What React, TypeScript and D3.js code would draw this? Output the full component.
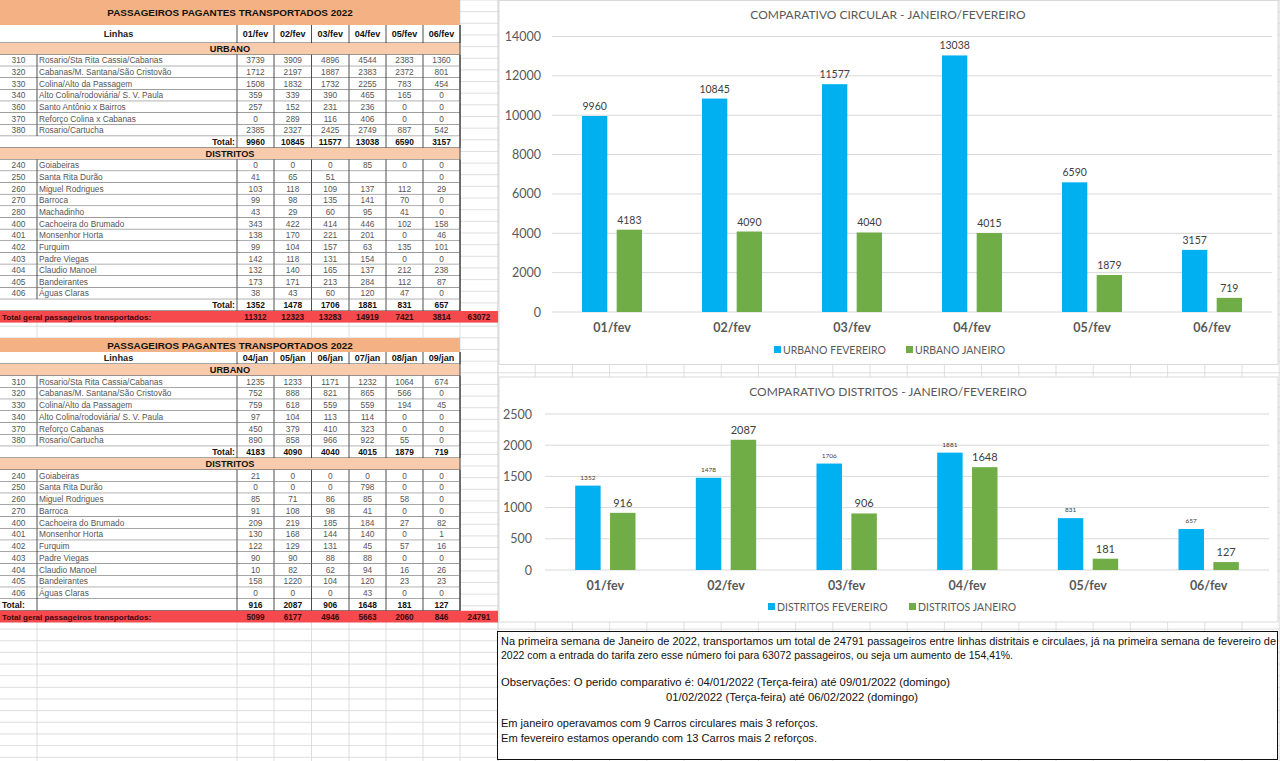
import React from 'react';
import * as d3 from 'd3';

// ---- chart data ----
const febDates = ['01/fev', '02/fev', '03/fev', '04/fev', '05/fev', '06/fev'];
const janDates = ['04/jan', '05/jan', '06/jan', '07/jan', '08/jan', '09/jan'];

const urbanoFev = [9960, 10845, 11577, 13038, 6590, 3157];
const urbanoJan = [4183, 4090, 4040, 4015, 1879, 719];
const distritosFev = [1352, 1478, 1706, 1881, 831, 657];
const distritosJan = [916, 2087, 906, 1648, 181, 127];

const urbanoTicks = [0, 2000, 4000, 6000, 8000, 10000, 12000, 14000];
const distritosTicks = [0, 500, 1000, 1500, 2000, 2500];

// ---- table data (fevereiro) ----
const febUrbanoLines = [
  ['310', 'Rosario/Sta Rita Cassia/Cabanas'],
  ['320', 'Cabanas/M. Santana/São Cristovão'],
  ['330', 'Colina/Alto da Passagem'],
  ['340', 'Alto Colina/rodoviária/ S. V. Paula'],
  ['360', 'Santo Antônio x Bairros'],
  ['370', 'Reforço Colina x Cabanas'],
  ['380', 'Rosario/Cartucha'],
];
const febUrbanoValues = [
  [3739, 3909, 4896, 4544, 2383, 1360],
  [1712, 2197, 1887, 2383, 2372, 801],
  [1508, 1832, 1732, 2255, 783, 454],
  [359, 339, 390, 465, 165, 0],
  [257, 152, 231, 236, 0, 0],
  [0, 289, 116, 406, 0, 0],
  [2385, 2327, 2425, 2749, 887, 542],
];
const febDistritosLines = [
  ['240', 'Goiabeiras'],
  ['250', 'Santa Rita Durão'],
  ['260', 'Miguel Rodrigues'],
  ['270', 'Barroca'],
  ['280', 'Machadinho'],
  ['400', 'Cachoeira do Brumado'],
  ['401', 'Monsenhor Horta'],
  ['402', 'Furquim'],
  ['403', 'Padre Viegas'],
  ['404', 'Claudio Manoel'],
  ['405', 'Bandeirantes'],
  ['406', 'Águas Claras'],
];
const febDistritosValues = [
  [0, 0, 0, 85, 0, 0],
  [41, 65, 51, null, null, 0],
  [103, 118, 109, 137, 112, 29],
  [99, 98, 135, 141, 70, 0],
  [43, 29, 60, 95, 41, 0],
  [343, 422, 414, 446, 102, 158],
  [138, 170, 221, 201, 0, 46],
  [99, 104, 157, 63, 135, 101],
  [142, 118, 131, 154, 0, 0],
  [132, 140, 165, 137, 212, 238],
  [173, 171, 213, 284, 112, 87],
  [38, 43, 60, 120, 47, 0],
];
const febGrand = [11312, 12323, 13283, 14919, 7421, 3814];
const febGrandAll = 63072;

// ---- table data (janeiro) ----
const janUrbanoLines = [
  ['310', 'Rosario/Sta Rita Cassia/Cabanas'],
  ['320', 'Cabanas/M. Santana/São Cristovão'],
  ['330', 'Colina/Alto da Passagem'],
  ['340', 'Alto Colina/rodoviária/ S. V. Paula'],
  ['370', 'Reforço Cabanas'],
  ['380', 'Rosario/Cartucha'],
];
const janUrbanoValues = [
  [1235, 1233, 1171, 1232, 1064, 674],
  [752, 888, 821, 865, 566, 0],
  [759, 618, 559, 559, 194, 45],
  [97, 104, 113, 114, 0, 0],
  [450, 379, 410, 323, 0, 0],
  [890, 858, 966, 922, 55, 0],
];
const janDistritosLines = [
  ['240', 'Goiabeiras'],
  ['250', 'Santa Rita Durão'],
  ['260', 'Miguel Rodrigues'],
  ['270', 'Barroca'],
  ['400', 'Cachoeira do Brumado'],
  ['401', 'Monsenhor Horta'],
  ['402', 'Furquim'],
  ['403', 'Padre Viegas'],
  ['404', 'Claudio Manoel'],
  ['405', 'Bandeirantes'],
  ['406', 'Águas Claras'],
];
const janDistritosValues = [
  [21, 0, 0, 0, 0, 0],
  [0, 0, 0, 798, 0, 0],
  [85, 71, 86, 85, 58, 0],
  [91, 108, 98, 41, 0, 0],
  [209, 219, 185, 184, 27, 82],
  [130, 168, 144, 140, 0, 1],
  [122, 129, 131, 45, 57, 16],
  [90, 90, 88, 88, 0, 0],
  [10, 82, 62, 94, 16, 26],
  [158, 1220, 104, 120, 23, 23],
  [0, 0, 0, 43, 0, 0],
];
const janGrand = [5099, 6177, 4946, 5663, 2060, 846];
const janGrandAll = 24791;

const noteLines = [
  'Na primeira semana de Janeiro de 2022, transportamos um total de 24791 passageiros entre linhas distritais e circulaes, já na primeira semana de fevereiro de',
  '2022 com a entrada do tarifa zero esse número foi para 63072 passageiros, ou seja um aumento de 154,41%.',
  'Observações: O perido comparativo é:  04/01/2022 (Terça-feira) até 09/01/2022 (domingo)',
  '01/02/2022 (Terça-feira) até 06/02/2022 (domingo)',
  'Em janeiro operavamos com 9 Carros circulares mais 3 reforços.',
  'Em fevereiro estamos operando com 13 Carros mais 2 reforços.',
];

// ---- layout ----
const W = 1280;
const H = 761;
const COLS = [0, 37, 237, 274, 311.5, 349, 386, 423, 460, 498];
const SHEET_FONT = '"Liberation Sans", Arial, sans-serif';
const CHART_FONT = 'Lato, "Open Sans", sans-serif';
const BLUE = '#00b0f0';
const GREEN = '#70ad47';
const GRID = '#d6d6d6';

type Row = {
  kind: 'title' | 'header' | 'section' | 'data' | 'total' | 'grand';
  h: number;
  label?: string;
  code?: string;
  name?: string;
  values?: (number | null)[];
  extra?: number;
  left?: boolean;
};

function buildRows(
  dates: string[],
  urbLines: string[][],
  urbVals: (number | null)[][],
  urbTot: number[],
  distLines: string[][],
  distVals: (number | null)[][],
  distTot: number[],
  grand: number[],
  grandAll: number,
  hTitle: number,
  hHead: number,
  rh: number,
  distTotalLeft: boolean
): Row[] {
  const rows: Row[] = [];
  rows.push({ kind: 'title', h: hTitle, label: 'PASSAGEIROS PAGANTES TRANSPORTADOS 2022' });
  rows.push({ kind: 'header', h: hHead, label: 'Linhas', values: dates as any });
  rows.push({ kind: 'section', h: rh, label: 'URBANO' });
  urbLines.forEach((l, i) => rows.push({ kind: 'data', h: rh, code: l[0], name: l[1], values: urbVals[i] }));
  rows.push({ kind: 'total', h: rh, values: urbTot, left: false });
  rows.push({ kind: 'section', h: rh, label: 'DISTRITOS' });
  distLines.forEach((l, i) => rows.push({ kind: 'data', h: rh, code: l[0], name: l[1], values: distVals[i] }));
  rows.push({ kind: 'total', h: rh, values: distTot, left: distTotalLeft });
  rows.push({ kind: 'grand', h: rh, values: grand, extra: grandAll });
  return rows;
}

function SheetTable({ rows, y0 }: { rows: Row[]; y0: number }) {
  let y = y0;
  const out: React.ReactNode[] = [];
  const colMid = (j: number) => (COLS[j + 2] + COLS[j + 3]) / 2;
  rows.forEach((r, i) => {
    const top = y;
    const bot = y + r.h;
    const mid = top + r.h / 2 + 3;
    y = bot;
    const g: React.ReactNode[] = [];
    if (r.kind === 'title') {
      g.push(<rect key="bg" x={0} y={top} width={460} height={r.h} fill="#f4b183" />);
      g.push(
        <text key="t" x={230} y={top + r.h / 2 + 3.6} textAnchor="middle" fontWeight="bold" fontSize={9.9} fill="#111">
          {r.label}
        </text>
      );
    } else if (r.kind === 'header') {
      g.push(<rect key="bg" x={0} y={top} width={460} height={r.h} fill="#fff" />);
      g.push(
        <text key="l" x={118.5} y={mid} textAnchor="middle" fontWeight="bold" fontSize={9.2} fill="#222">
          {r.label}
        </text>
      );
      (r.values as any as string[]).forEach((d, j) =>
        g.push(
          <text key={'h' + j} x={colMid(j)} y={mid} textAnchor="middle" fontWeight="bold" fontSize={9} fill="#111">
            {d}
          </text>
        )
      );
      COLS.slice(2, 9).forEach((cx, j) => g.push(<line key={'v' + j} x1={cx} x2={cx} y1={top} y2={bot} stroke="#222" strokeWidth={0.8} />));
    } else if (r.kind === 'section') {
      g.push(<rect key="bg" x={0} y={top} width={460} height={r.h} fill="#f8cbad" />);
      g.push(
        <text key="t" x={230} y={mid} textAnchor="middle" fontWeight="bold" fontSize={9.2} fill="#111">
          {r.label}
        </text>
      );
    } else if (r.kind === 'data') {
      g.push(<rect key="bg" x={0} y={top} width={460} height={r.h} fill="#fff" />);
      g.push(
        <text key="c" x={18.5} y={mid} textAnchor="middle" fontSize={8.3} fill="#555">
          {r.code}
        </text>
      );
      g.push(
        <text key="n" x={39} y={mid} fontSize={8.3} fill="#555">
          {r.name}
        </text>
      );
      r.values!.forEach((v, j) =>
        g.push(
          <text key={'d' + j} x={colMid(j)} y={mid} textAnchor="middle" fontSize={8.3} fill="#555">
            {v === null ? '' : v}
          </text>
        )
      );
      [37, ...COLS.slice(2, 9)].forEach((cx, j) =>
        g.push(<line key={'v' + j} x1={cx} x2={cx} y1={top} y2={bot} stroke="#222" strokeWidth={0.8} />)
      );
    } else if (r.kind === 'total') {
      g.push(<rect key="bg" x={0} y={top} width={460} height={r.h} fill="#fff" />);
      g.push(
        <text
          key="t"
          x={r.left ? 2 : 235}
          y={mid}
          textAnchor={r.left ? 'start' : 'end'}
          fontWeight="bold"
          fontSize={8.6}
          fill="#111"
        >
          Total:
        </text>
      );
      r.values!.forEach((v, j) =>
        g.push(
          <text key={'d' + j} x={colMid(j)} y={mid} textAnchor="middle" fontWeight="bold" fontSize={8.4} fill="#111">
            {v}
          </text>
        )
      );
      COLS.slice(2, 9).forEach((cx, j) => g.push(<line key={'v' + j} x1={cx} x2={cx} y1={top} y2={bot} stroke="#222" strokeWidth={0.8} />));
      if (r.left) g.push(<line key="v37" x1={37} x2={37} y1={top} y2={bot} stroke="#222" strokeWidth={0.8} />);
    } else if (r.kind === 'grand') {
      g.push(<rect key="bg" x={0} y={top} width={498} height={r.h} fill="#f5494e" />);
      g.push(
        <text key="t" x={2} y={mid} fontWeight="bold" fontSize={8.1} fill="#3b0a0a">
          Total geral passageiros transportados:
        </text>
      );
      r.values!.forEach((v, j) =>
        g.push(
          <text key={'d' + j} x={colMid(j)} y={mid} textAnchor="middle" fontWeight="bold" fontSize={8.2} fill="#3b0a0a">
            {v}
          </text>
        )
      );
      g.push(
        <text key="all" x={479} y={mid} textAnchor="middle" fontWeight="bold" fontSize={8.2} fill="#3b0a0a">
          {r.extra}
        </text>
      );
    }
    // horizontal borders
    if (r.kind !== 'title' && r.kind !== 'grand') {
      g.push(<line key="hb" x1={0} x2={460} y1={bot} y2={bot} stroke="#222" strokeWidth={0.8} />);
      g.push(<line key="rb" x1={460} x2={460} y1={top} y2={bot} stroke="#222" strokeWidth={0.8} />);
    }
    out.push(<g key={i}>{g}</g>);
  });
  return <g fontFamily={SHEET_FONT}>{out}</g>;
}

function BarChart(props: {
  x: number;
  y: number;
  w: number;
  h: number;
  title: string;
  titleY: number;
  range: [number, number];
  yRange: [number, number];
  ticks: number[];
  tickX: number;
  fev: number[];
  jan: number[];
  labelY: number;
  legendY: number;
  legend: [string, string];
  legendX: [number, number];
  fevLabelSize: number;
  janLabelSize: number;
}) {
  const p = props;
  const x0 = d3.scaleBand<string>().domain(febDates).range(p.range).paddingInner(0.5).paddingOuter(0.25);
  const x1 = d3.scaleBand<string>().domain(['fev', 'jan']).range([0, x0.bandwidth()]).paddingInner(0.27);
  const y = d3.scaleLinear().domain([0, p.ticks[p.ticks.length - 1]]).range(p.yRange);
  const series = [
    { key: 'fev', vals: p.fev, color: BLUE, size: p.fevLabelSize },
    { key: 'jan', vals: p.jan, color: GREEN, size: p.janLabelSize },
  ];
  return (
    <g fontFamily={CHART_FONT}>
      <rect x={p.x} y={p.y} width={p.w} height={p.h} fill="#fff" stroke="#d9d9d9" />
      <text x={888} y={p.titleY} textAnchor="middle" fontSize={12} fill="#595959">
        {p.title}
      </text>
      {p.ticks.map(t => (
        <g key={t}>
          <line x1={p.range[0]} x2={p.range[1]} y1={y(t)} y2={y(t)} stroke="#d9d9d9" strokeWidth={1} />
          <text x={p.tickX} y={y(t) + 4.5} textAnchor="end" fontSize={12.5} fill="#595959">
            {t}
          </text>
        </g>
      ))}
      {series.map(s =>
        febDates.map((d, i) => {
          const bx = (x0(d) ?? 0) + (x1(s.key) ?? 0);
          const by = y(s.vals[i]);
          return (
            <g key={s.key + d}>
              <rect x={bx} y={by} width={x1.bandwidth()} height={y(0) - by} fill={s.color} />
              <text x={bx + x1.bandwidth() / 2} y={by - 6} textAnchor="middle" fontSize={s.size} fill="#404040">
                {s.vals[i]}
              </text>
            </g>
          );
        })
      )}
      {febDates.map(d => (
        <text key={d} x={(x0(d) ?? 0) + x0.bandwidth() / 2} y={p.labelY} textAnchor="middle" fontWeight="bold" fontSize={12.5} fill="#595959">
          {d}
        </text>
      ))}
      {p.legend.map((l, i) => (
        <g key={l}>
          <rect x={p.legendX[i]} y={p.legendY - 4} width={7} height={7} fill={i === 0 ? BLUE : GREEN} />
          <text x={p.legendX[i] + 9} y={p.legendY + 3.5} fontSize={10.5} fill="#595959">
            {l}
          </text>
        </g>
      ))}
    </g>
  );
}

export default function App() {
  React.useEffect(() => {
    document.body.style.margin = '0';
  }, []);

  const febRows = buildRows(
    febDates,
    febUrbanoLines,
    febUrbanoValues,
    urbanoFev,
    febDistritosLines,
    febDistritosValues,
    distritosFev,
    febGrand,
    febGrandAll,
    25,
    18,
    11.65,
    false
  );
  const janRows = buildRows(
    janDates,
    janUrbanoLines,
    janUrbanoValues,
    urbanoJan,
    janDistritosLines,
    janDistritosValues,
    distritosJan,
    janGrand,
    janGrandAll,
    14,
    12,
    11.75,
    true
  );

  // background spreadsheet grid
  const hLines = d3.range(0, H, 11.65);
  const rightCols = d3.range(498, W, 37.2);

  const noteX = [501, 501, 501, 666, 501, 501];
  const noteY = [645, 659, 686, 701, 727, 742];
  const noteW = [775, 512, 449, 252, 317, 316];

  return (
    <svg width={W} height={H} style={{ display: 'block', position: 'absolute', left: 0, top: 0 }}>
      <rect width={W} height={H} fill="#fff" />
      <g stroke={GRID} strokeWidth={0.8}>
        {hLines.map((hy, i) => (
          <line key={'h' + i} x1={0} x2={W} y1={hy} y2={hy} />
        ))}
        {[...COLS.slice(1), ...rightCols].map((cx, i) => (
          <line key={'v' + i} x1={cx} x2={cx} y1={0} y2={H} />
        ))}
      </g>
      <SheetTable rows={febRows} y0={0} />
      <SheetTable rows={janRows} y0={338} />

      <BarChart
        x={499}
        y={0.5}
        w={779}
        h={364}
        title="COMPARATIVO CIRCULAR - JANEIRO/FEVEREIRO"
        titleY={19}
        range={[552, 1272]}
        yRange={[312, 36.5]}
        ticks={urbanoTicks}
        tickX={541}
        fev={urbanoFev}
        jan={urbanoJan}
        labelY={332}
        legendY={350}
        legend={['URBANO FEVEREIRO', 'URBANO JANEIRO']}
        legendX={[774, 906]}
        fevLabelSize={10.5}
        janLabelSize={10.5}
      />
      <BarChart
        x={499}
        y={377}
        w={779}
        h={245}
        title="COMPARATIVO DISTRITOS - JANEIRO/FEVEREIRO"
        titleY={396}
        range={[545, 1269]}
        yRange={[570, 414]}
        ticks={distritosTicks}
        tickX={532}
        fev={distritosFev}
        jan={distritosJan}
        labelY={590}
        legendY={607}
        legend={['DISTRITOS FEVEREIRO', 'DISTRITOS JANEIRO']}
        legendX={[768, 909]}
        fevLabelSize={6.5}
        janLabelSize={11}
      />

      <g fontFamily={SHEET_FONT}>
        <rect x={497.5} y={631.5} width={780} height={128} fill="#fff" stroke="#111" strokeWidth={1} />
        {noteLines.map((t, i) => (
          <text key={i} x={noteX[i]} y={noteY[i]} fontSize={11} fill="#111" textLength={noteW[i]} lengthAdjust="spacingAndGlyphs">
            {t}
          </text>
        ))}
      </g>
    </svg>
  );
}
